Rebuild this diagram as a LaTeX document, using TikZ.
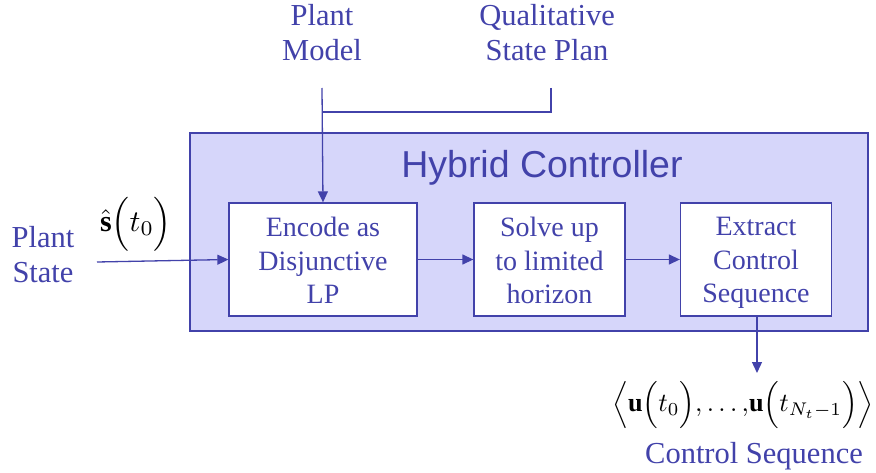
\documentclass[tikz,border=0pt]{standalone}
\usepackage{amsmath}
\usepackage{graphicx}
\usepackage{fontspec}
\setmainfont{Liberation Serif}
\newfontfamily\headfont{Liberation Sans}
\usetikzlibrary{arrows.meta}
\definecolor{ink}{RGB}{66,66,170}
\definecolor{panel}{RGB}{214,214,250}
\newcommand{\bigmath}[2][3]{\scalebox{#1}{\fontsize{10}{12}\selectfont$#2$}}
\tikzset{
  flow/.style={draw=ink, line width=1.3pt, -{Triangle[length=11pt,width=10pt]}},
  wire/.style={draw=ink, line width=1.3pt},
  steptext/.style={align=center, text=ink, font=\fontsize{28}{33.5}\selectfont, inner sep=0pt, yshift=-1pt},
  stepbox/.style={draw=ink, line width=1.3pt, fill=white, minimum width=151pt, minimum height=113pt,
    inner sep=0pt, label={[steptext]center:#1}},
  outlabel/.style={align=center, text=ink, font=\fontsize{30.5}{35}\selectfont, inner sep=0pt},
  mathlabel/.style={inner sep=0pt},
}
\begin{document}
\begin{tikzpicture}[x=1pt,y=-1pt]
\useasboundingbox (0,0) rectangle (876,473);
% controller panel
\node[draw=ink, line width=1.2pt, fill=panel, minimum width=678pt, minimum height=198pt, inner sep=0pt]
  (ctrl) at (529,232) {};
\node[text=ink, font=\headfont\fontsize{37.5}{42}\selectfont, inner sep=0pt] (title) at (542,168) {Hybrid Controller};
% processing steps
\node[stepbox={{Encode as\\Disjunctive\\LP}}, minimum width=188pt] (enc) at (323,259.5) {};
\node[stepbox={{Solve up\\to limited\\horizon}}] (solve) at (549.5,259.5) {};
\node[stepbox={{\strut Extract\\Control\\Sequence}}] (extract) at (756,259.5) {};
% inputs
\node[outlabel] (model) at (322,33) {Plant\\Model};
\node[outlabel] (plan) at (547,33) {Qualitative\\State Plan};
\node[outlabel] (state) at (43,255) {Plant\\State};
\node[mathlabel] (shat) at (136,224) {\bigmath{\hat{\mathbf{s}}\Bigl(t_0\Bigr)}};
\coordinate (modelfoot) at (322,88);
\coordinate (planfoot) at (551,88);
\coordinate (join) at (322,112);
\coordinate (sin) at (97,262);
% outputs
\node[mathlabel] (useq) at (743,405)
  {\bigmath[2.62]{\Bigl\langle\mathbf{u}\Bigl(t_0\Bigr){,}\ldots{,}\mathbf{u}\Bigl(t_{N_t-1}\Bigr)\Bigr\rangle}};
\node[outlabel] (cseq) at (754,456) {Control Sequence};
\coordinate (uout) at (757,373);
% connectors
\draw[wire] (planfoot) |- (join);
\draw[flow] (modelfoot) -- (enc.north);
\draw[flow] (sin) -- (enc.west);
\draw[flow] (enc.east) -- (solve.west);
\draw[flow] (solve.east) -- (extract.west);
\draw[flow] (extract.south) ++(1,0) -- (uout);
\end{tikzpicture}
\end{document}
